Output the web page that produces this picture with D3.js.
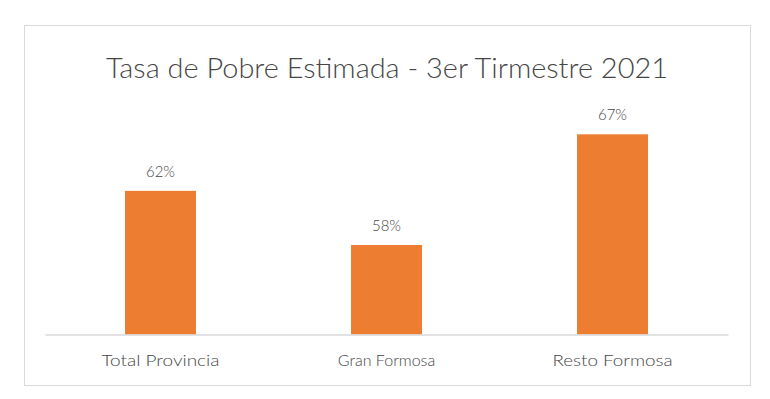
<!DOCTYPE html>
<html>
<head>
<meta charset="utf-8">
<script src="https://cdn.jsdelivr.net/npm/d3@7"></script>
<style>
	body { margin: 0; background: #fff; }
	text { font-family: Lato, "Open Sans", sans-serif; fill: #454545; }
</style>
</head>
<body>
<div class="chart"></div>
<script>
// data
const categories = ['Total Provincia', 'Gran Formosa', 'Resto Formosa'];
const values = [0.622, 0.576, 0.67];
const title = 'Tasa de Pobre Estimada - 3er Tirmestre 2021';

const W = 770, H = 399;
const plot = { left: 45, right: 728, top: 99, bottom: 334.5 };

const svg = d3.select('.chart')
	.append('svg')
		.attr('width', W)
		.attr('height', H);

// outer chart border
svg.append('rect')
	.attr('x', 24.5)
	.attr('y', 25.5)
	.attr('width', 726)
	.attr('height', 360)
	.attr('fill', '#fff')
	.attr('stroke', '#d9d9d9')
	.attr('stroke-width', 1);

// title
svg.append('text')
	.attr('x', 387)
	.attr('y', 78)
	.attr('text-anchor', 'middle')
	.attr('textLength', 562)
	.attr('lengthAdjust', 'spacingAndGlyphs')
	.style('font-size', '28px')
	.style('font-weight', 300)
	.text(title);

const xScale = d3.scaleBand()
	.domain(categories)
	.range([plot.left, plot.right])
	.paddingInner(0.686)
	.paddingOuter(0.354);

const yScale = d3.scaleLinear()
	.domain([0.5, 0.7])
	.range([plot.bottom, plot.top]);

// bars
svg.selectAll('.bar')
	.data(values)
	.enter()
	.append('rect')
	.attr('class', 'bar')
	.attr('x', (d, i) => xScale(categories[i]))
	.attr('y', d => yScale(d))
	.attr('width', xScale.bandwidth())
	.attr('height', d => yScale(0.5) - yScale(d))
	.attr('fill', '#ed7d31');

// data labels
const fmt = d3.format('.0%');
svg.selectAll('.label')
	.data(values)
	.enter()
	.append('text')
	.attr('class', 'label')
	.attr('x', (d, i) => xScale(categories[i]) + xScale.bandwidth() / 2)
	.attr('y', d => yScale(d) - 14)
	.attr('text-anchor', 'middle')
	.attr('textLength', 29)
	.attr('lengthAdjust', 'spacingAndGlyphs')
	.style('font-size', '15px')
	.style('font-weight', 300)
	.text(d => fmt(d));

// x axis
const xAxis = svg.append('g')
	.attr('transform', `translate(0, ${plot.bottom})`)
	.call(d3.axisBottom(xScale).tickSize(0).tickPadding(20));

xAxis.select('.domain')
	.attr('stroke', '#d9d9d9')
	.attr('stroke-width', 1.5);

xAxis.selectAll('text')
	.style('font-size', '16px')
	.style('font-weight', 300)
	.style('font-family', 'Lato, "Open Sans", sans-serif')
	.attr('fill', '#454545')
	.attr('textLength', (d, i) => [118, null, 120][i])
	.attr('lengthAdjust', 'spacingAndGlyphs');
</script>
</body>
</html>
